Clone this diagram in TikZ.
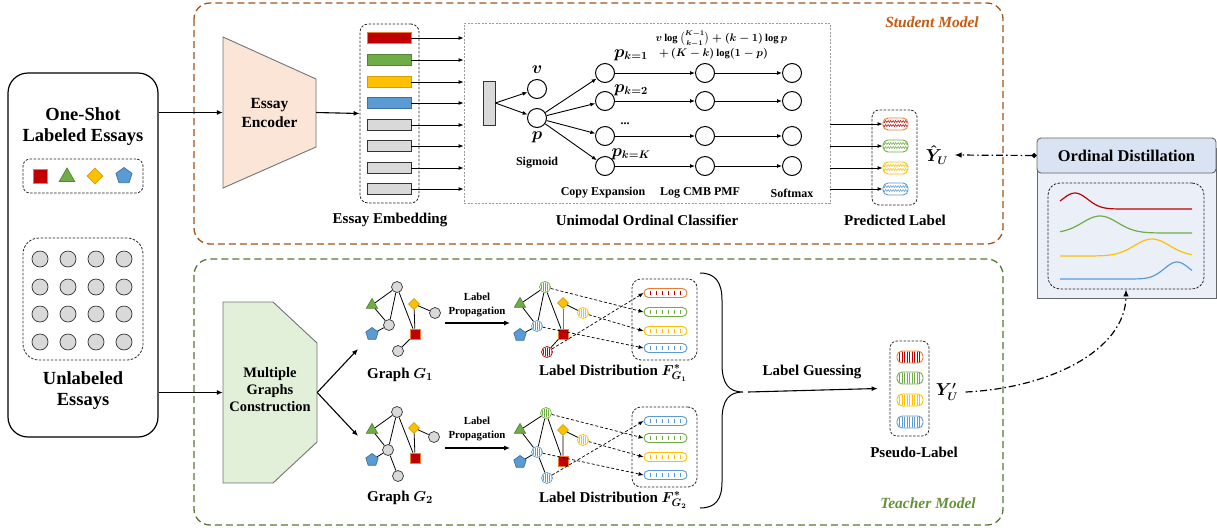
\documentclass[tikz,border=0pt]{standalone}
\usepackage{amsmath}
\usepackage{fontspec}
\setmainfont{Liberation Serif}
\usetikzlibrary{arrows.meta,shapes.geometric,decorations.pathmorphing,calc}
\definecolor{redF}{RGB}{192,0,0}
\definecolor{redB}{RGB}{237,125,49}
\definecolor{grnF}{RGB}{112,173,71}
\definecolor{grnB}{RGB}{84,130,53}
\definecolor{ylwF}{RGB}{255,192,0}
\definecolor{ylwB}{RGB}{210,160,0}
\definecolor{bluF}{RGB}{91,155,213}
\definecolor{bluB}{RGB}{65,113,156}
\definecolor{grayF}{RGB}{217,217,217}
\definecolor{stuC}{RGB}{158,84,31}
\definecolor{stuT}{RGB}{197,90,17}
\definecolor{teaC}{RGB}{84,120,53}
\definecolor{teaT}{RGB}{100,145,60}
\definecolor{encF}{RGB}{251,229,214}
\definecolor{mgcF}{RGB}{226,240,217}
\definecolor{odH}{RGB}{218,227,243}
\definecolor{odB}{RGB}{234,239,248}
\definecolor{edgeG}{RGB}{120,120,120}
% hatched circle: name, x, y, colour
\newcommand\hcirc[4]{%
  \node[circle, draw=#4, fill=white, minimum size=11pt, inner sep=0pt, line width=0.7pt] (#1) at (#2,#3) {};
  \begin{scope}[shift={(#2,#3)}]
    \clip (0,0) circle (4.6pt);
    \foreach \dx in {-4,-2,0,2,4} \draw[#4, line width=0.9pt] (\dx,-6) -- (\dx,6);
  \end{scope}}
% tick pill: name, x, y, border, ticks
\newcommand\tpill[5]{%
  \node[draw=#4, line width=0.9pt, rounded corners=4.5pt, minimum width=43pt, minimum height=9pt, inner sep=0pt, fill=white] (#1) at (#2,#3) {};
  \begin{scope}[shift={(#2,#3)}]
    \foreach \dx in {-15,-9,-3,3,9,15} \draw[#5, line width=0.6pt] (\dx,-2) -- (\dx,2);
  \end{scope}}
% striped pill: name, x, y, border, stripes
\newcommand\spill[5]{%
  \node[draw=#4, line width=0.9pt, rounded corners=5pt, minimum width=26pt, minimum height=12pt, inner sep=0pt, fill=white] (#1) at (#2,#3) {};
  \begin{scope}[shift={(#2,#3)}]
    \clip[rounded corners=4.5pt] (-12.5,-5.5) rectangle (12.5,5.5);
    \foreach \dx in {-10.5,-8,...,11} \draw[#5, line width=0.5pt] (\dx,-6) -- (\dx,6);
  \end{scope}}
% wavy pill: name, x, y, border, waves
\newcommand\wpill[5]{%
  \node[draw=#4, line width=0.9pt, rounded corners=5pt, minimum width=25pt, minimum height=12pt, inner sep=0pt, fill=white] (#1) at (#2,#3) {};
  \begin{scope}[shift={(#2,#3)}]
    \clip[rounded corners=4.5pt] (-12,-5.5) rectangle (12,5.5);
    \foreach \dy in {-2.5,1.5} \draw[#5, line width=0.5pt, decorate, decoration={zigzag, segment length=2.5pt, amplitude=1pt}] (-13,\dy) -- (13,\dy);
  \end{scope}}
\begin{document}
\begin{tikzpicture}[x=1pt,y=-1pt,
  arr/.style={-{Latex[length=6pt,width=5pt]}, line width=1.1pt},
  sarr/.style={-{Latex[length=5pt,width=4pt]}, line width=0.9pt},
  darr/.style={-{Latex[length=5pt,width=4pt]}, line width=0.7pt, dash pattern=on 3pt off 2pt},
  ddash/.style={line width=0.8pt, dash pattern=on 2.5pt off 1.5pt},
  gedge/.style={line width=0.8pt, black},
  gn/.style={circle, draw=black!80, fill=grayF, minimum size=#1, inner sep=0pt, line width=0.7pt},
  gn/.default=11pt,
  sqn/.style={rectangle, draw=redB, fill=redF, minimum size=#1, inner sep=0pt, line width=0.7pt},
  sqn/.default=10pt,
  trin/.style={regular polygon, regular polygon sides=3, draw=grnB, fill=grnF, minimum size=#1, inner sep=0pt, line width=0.7pt},
  trin/.default=13pt,
  dian/.style={diamond, draw=ylwB, fill=ylwF, minimum size=#1, inner sep=0pt, line width=0.7pt},
  dian/.default=11pt,
  penn/.style={regular polygon, regular polygon sides=5, draw=bluB, fill=bluF, minimum size=#1, inner sep=0pt, line width=0.7pt},
  penn/.default=13pt,
  cn/.style={circle, draw=black, fill=white, minimum size=19pt, inner sep=0pt, line width=1pt},
  lbl/.style={font=\fontsize{15}{17}\selectfont\bfseries\boldmath, align=center},
  lblbig/.style={font=\fontsize{18.5}{21}\selectfont\bfseries, align=center},
  lblsm/.style={font=\fontsize{12}{14}\selectfont\bfseries, align=center},
  lblxs/.style={font=\fontsize{10.8}{13.5}\selectfont\bfseries, align=center},
  mth/.style={font=\fontsize{16}{18}\selectfont\boldmath},
  bar/.style={rectangle, minimum width=44pt, minimum height=11pt, inner sep=0pt, line width=0.9pt},
  ddot/.style={line width=1.2pt, dash pattern=on 7pt off 3pt on 1.5pt off 3pt}
]
\useasboundingbox (0,0) rectangle (1217,531);

% ---------- model frames ----------
\draw[stuC, line width=1.3pt, dash pattern=on 7pt off 4pt, rounded corners=16pt] (194,3) rectangle (1003,244);
\draw[teaC, line width=1.3pt, dash pattern=on 7pt off 4pt, rounded corners=16pt] (194,259) rectangle (1003,525);
\node[font=\fontsize{15.5}{17}\selectfont\bfseries\itshape, text=stuT] (stxt) at (932,22) {Student Model};
\node[font=\fontsize{15.5}{17}\selectfont\bfseries\itshape, text=teaT] (ttxt) at (928,503) {Teacher Model};

% ---------- left panel ----------
\node[draw=black, line width=1.2pt, rounded corners=20pt, minimum width=150pt, minimum height=364pt, inner sep=0pt] (lp) at (83,255) {};
\node[lblbig] (lpt1) at (83,127) {One-Shot\\Labeled Essays};
\node[draw=black!85, ddash, rounded corners=7pt, minimum width=120pt, minimum height=34pt, inner sep=0pt] (lsb) at (83,176) {};
\node[sqn=14pt] (ls1) at (40,176) {};
\node[trin=18pt] (ls2) at (67,177) {};
\node[dian=16pt] (ls3) at (95,176) {};
\node[penn=17pt] (ls4) at (124,176) {};
\node[draw=black!85, ddash, rounded corners=16pt, minimum width=120pt, minimum height=122pt, inner sep=0pt] (lub) at (83,299) {};
\foreach \cx [count=\i] in {40,68,96,124}
  \foreach \cy [count=\j] in {259,287,314,342}
    \node[gn=16pt] (lu\i\j) at (\cx,\cy) {};
\node[lblbig] (lpt2) at (83,391) {Unlabeled\\Essays};

% ---------- encoder ----------
\draw[fill=encF, draw=black!55, line width=0.9pt] (223,37) -- (316,79) -- (316,147) -- (223,188) -- cycle;
\node[lbl, minimum width=93pt, minimum height=151pt, inner sep=0pt, font=\fontsize{15.5}{19}\selectfont\bfseries] (enc) at (269.5,112.5) {Essay\\Encoder};
\draw[arr] (lp.east |- enc.west) -- (enc.west);

% ---------- embedding ----------
\node[draw=black!85, ddash, rounded corners=8pt, minimum width=59pt, minimum height=179pt, inner sep=0pt] (emb) at (389.5,113.5) {};
\draw[arr] (enc.east) -- (emb.west);
\node[bar, fill=redF, draw=redB] (b1) at (389,38) {};
\node[bar, fill=grnF, draw=grnB] (b2) at (389,60) {};
\node[bar, fill=ylwF, draw=ylwB] (b3) at (389,82) {};
\node[bar, fill=bluF, draw=bluB] (b4) at (389,103) {};
\node[bar, fill=grayF, draw=black!80] (b5) at (389,125) {};
\node[bar, fill=grayF, draw=black!80] (b6) at (389,146) {};
\node[bar, fill=grayF, draw=black!80] (b7) at (389,168) {};
\node[bar, fill=grayF, draw=black!80] (b8) at (389,189) {};
\node[lbl] (embt) at (390,220) {Essay Embedding};

% ---------- classifier ----------
\node[draw=gray!80, line width=0.8pt, dash pattern=on 2pt off 1.5pt, minimum width=366pt, minimum height=180pt, inner sep=0pt] (cls) at (647,113) {};
\foreach \i in {1,...,8} \draw[sarr] (b\i.east) -- (cls.west |- b\i.east);
\node[rectangle, fill=grayF, draw=black!80, line width=0.8pt, minimum width=12pt, minimum height=44pt, inner sep=0pt] (sg) at (489,103) {};
\node[cn] (cv) at (537,89) {};
\node[cn] (cp) at (537,118) {};
\draw[sarr] (sg.east) -- (cv);
\draw[sarr] (sg.east) -- (cp);
\foreach \r [count=\i] in {73,101,136,166} {
  \node[cn] (c\i) at (605,\r) {};
  \node[cn] (l\i) at (705,\r) {};
  \node[cn] (s\i) at (792,\r) {};
  \draw[sarr] (cp) -- (c\i);
  \draw[sarr] (c\i) -- (l\i);
  \draw[sarr] (l\i) -- (s\i);
}
\node[mth] (tv) at (537,70) {$v$};
\node[mth] (tp) at (537,137) {$p$};
\node[lblsm] (tsig) at (537,163) {Sigmoid};
\node[mth] (tk1) at (631,55) {$p_{k=1}$};
\node[mth] (tk2) at (631,90) {$p_{k=2}$};
\node[lblsm] (tkd) at (625,124) {...};
\node[mth] (tkK) at (631,154) {$p_{k=K}$};
\node[anchor=west, align=left, font=\fontsize{10.5}{15}\selectfont\boldmath] (form) at (652,45)
  {$v\log\tbinom{K-1}{k-1}+(k-1)\log p$\\$\;+\,(K-k)\log(1-p)$};
\node[lblsm] (tce) at (603,193) {Copy Expansion};
\node[lblsm] (tlc) at (700,193) {Log CMB PMF};
\node[lblsm] (tsm) at (792,193) {Softmax};
\node[lbl] (clst) at (647,220) {Unimodal Ordinal Classifier};

% ---------- predicted label ----------
\node[draw=black!85, ddash, rounded corners=7pt, minimum width=45pt, minimum height=95pt, inner sep=0pt] (prb) at (894.5,157.5) {};
\wpill{pr1}{895.5}{124}{redB}{redF}
\wpill{pr2}{895.5}{146}{grnF}{grnF}
\wpill{pr3}{895.5}{168}{ylwF}{ylwF}
\wpill{pr4}{895.5}{189}{bluF}{bluF}
\foreach \i in {1,...,4} \draw[sarr] (cls.east |- pr\i.west) -- (pr\i.west);
\node[lbl] (prt) at (895,220) {Predicted Label};
\node[mth] (yh) at (937,155) {$\hat{Y}_{U}$};

% ---------- ordinal distillation ----------
\node[draw=gray!80!black, fill=odB, line width=0.9pt, minimum width=179pt, minimum height=150pt, inner sep=0pt] (odb) at (1126.5,223) {};
\node[draw=gray!80!black, fill=odH, line width=0.9pt, rounded corners=4pt, minimum width=179pt, minimum height=35pt, inner sep=0pt, font=\fontsize{16.4}{18}\selectfont\bfseries] (odh) at (1126.5,155.5) {Ordinal Distillation};
\node[draw=black!85, ddash, rounded corners=12pt, minimum width=156pt, minimum height=106pt, inner sep=0pt] (odi) at (1126,236) {};
\draw[redF, line width=1.2pt, domain=1060:1192, samples=60, smooth] plot (\x, {209-16*exp(-((\x-1075)/18)^2)});
\draw[grnF, line width=1.2pt, domain=1060:1192, samples=60, smooth] plot (\x, {233-17*exp(-((\x-1100)/25)^2)});
\draw[ylwF, line width=1.2pt, domain=1060:1192, samples=60, smooth] plot (\x, {256-17*exp(-((\x-1152)/25)^2)});
\draw[bluF, line width=1.2pt, domain=1060:1192, samples=60, smooth] plot (\x, {279-17*exp(-((\x-1177)/18)^2)});
\draw[ddot, {Circle[length=5pt]}-{Latex[length=7pt,width=5.5pt]}] (odh.west) -- ([xshift=3pt]yh.east);

% ---------- teacher: construction ----------
\draw[fill=mgcF, draw=black!55, line width=0.9pt] (223,302) -- (273,302) -- (317,343) -- (317,442) -- (273,483) -- (223,483) -- cycle;
\node[minimum width=94pt, minimum height=181pt, inner sep=0pt] (mgc) at (270,392.5) {};
\node[lbl, font=\fontsize{14.5}{17}\selectfont\bfseries] (mgct) at (270,390) {Multiple\\Graphs\\Construction};
\draw[arr] (lp.east |- mgc.west) -- (mgc.west);
\coordinate (g1in) at (358,349);
\coordinate (g2in) at (358,436);
\draw[arr] (mgc.east) -- (g1in);
\draw[arr] (mgc.east) -- (g2in);

% ---------- graph G1 ----------
\node[gn] (g1t) at (397,287) {};
\node[trin] (g1tri) at (372,305) {};
\node[gn] (g1m) at (389,325) {};
\node[penn] (g1pen) at (372,334) {};
\node[dian] (g1dia) at (414,304) {};
\node[gn] (g1r) at (435,313) {};
\node[sqn] (g1sq) at (415,334) {};
\node[gn] (g1b) at (398,351) {};
\draw[gedge] (g1t) -- (g1tri) (g1t) -- (g1m) (g1t) -- (g1sq) (g1tri) -- (g1m) (g1m) -- (g1pen)
  (g1dia) -- (g1r) (g1dia) -- (g1sq) (g1sq) -- (g1b);
\node[lbl] (tg1) at (400,375) {Graph $G_1$};

% ---------- graph G2 ----------
\node[gn] (g2t) at (397,412) {};
\node[trin] (g2tri) at (372,430) {};
\node[gn] (g2m) at (388,450) {};
\node[penn] (g2pen) at (372,460) {};
\node[dian] (g2dia) at (414,428) {};
\node[gn] (g2r) at (434,437) {};
\node[sqn] (g2sq) at (415,458) {};
\node[gn] (g2b) at (398,476) {};
\draw[gedge] (g2t) -- (g2tri) (g2t) -- (g2m) (g2t) -- (g2sq) (g2tri) -- (g2m) (g2m) -- (g2pen)
  (g2m) -- (g2b) (g2dia) -- (g2r) (g2dia) -- (g2sq);
\node[lbl] (tg2) at (400,498) {Graph $G_2$};

% ---------- label propagation ----------
\coordinate (lp1a) at (445,323); \coordinate (lp1b) at (510,323);
\coordinate (lp2a) at (445,448); \coordinate (lp2b) at (510,448);
\draw[arr] (lp1a) -- (lp1b);
\draw[arr] (lp2a) -- (lp2b);
\node[lblxs] (lpt1a) at (477,305) {Label\\Propagation};
\node[lblxs] (lpt2a) at (477,429) {Label\\Propagation};

% ---------- label distribution 1 ----------
\hcirc{d1g}{545}{287}{grnF}
\node[trin] (d1tri) at (520,304) {};
\hcirc{d1b}{537}{326}{bluF}
\node[penn] (d1pen) at (520,335) {};
\node[dian] (d1dia) at (563,303) {};
\hcirc{d1y}{583}{313}{ylwF}
\node[sqn] (d1sq) at (563,334) {};
\hcirc{d1r}{547}{352}{redF}
\draw[gedge] (d1g) -- (d1tri) (d1g) -- (d1b) (d1g) -- (d1sq) (d1tri) -- (d1b) (d1b) -- (d1pen)
  (d1dia) -- (d1y) (d1sq) -- (d1r);
\draw[line width=0.8pt, edgeG] (d1dia) -- (d1sq);
\node[draw=black!85, ddash, rounded corners=9pt, minimum width=65pt, minimum height=81pt, inner sep=0pt] (db1) at (664.5,319.5) {};
\tpill{q11}{665.5}{293}{redB}{redF}
\tpill{q12}{665.5}{312}{grnF}{grnF}
\tpill{q13}{665.5}{331}{ylwF}{ylwF}
\tpill{q14}{665.5}{348}{bluF}{bluF}
\draw[darr] (d1g) -- (q12.west);
\draw[darr] (d1y) -- (q13.west);
\draw[darr] (d1b) -- (q14.west);
\draw[darr] (d1r) -- (q11.west);
\node[lbl] (tdb1) at (613,373) {Label Distribution $F^{*}_{G_1}$};

% ---------- label distribution 2 ----------
\hcirc{d2g}{546}{413}{grnF}
\node[trin] (d2tri) at (520,430) {};
\hcirc{d2b}{537}{452}{bluF}
\node[penn] (d2pen) at (520,462) {};
\node[dian] (d2dia) at (563,430) {};
\hcirc{d2y}{583}{440}{ylwF}
\node[sqn] (d2sq) at (563,461) {};
\hcirc{d2c}{547}{478}{bluF}
\draw[gedge] (d2g) -- (d2tri) (d2g) -- (d2b) (d2g) -- (d2sq) (d2tri) -- (d2b) (d2b) -- (d2pen)
  (d2b) -- (d2c) (d2dia) -- (d2y) (d2dia) -- (d2sq);
\node[draw=black!85, ddash, rounded corners=9pt, minimum width=65pt, minimum height=80pt, inner sep=0pt] (db2) at (664.5,447) {};
\tpill{q21}{665.5}{421}{bluF}{bluF}
\tpill{q22}{665.5}{438}{grnF}{grnF}
\tpill{q23}{665.5}{457}{ylwF}{ylwF}
\tpill{q24}{665.5}{475}{bluF}{bluF}
\draw[darr] (d2g) -- (q22.west);
\draw[darr] (d2y) -- (q23.west);
\draw[darr] (d2b) -- (q24.west);
\draw[darr] (d2c) -- (q21.west);
\node[lbl] (tdb2) at (613,500) {Label Distribution $F^{*}_{G_2}$};

% ---------- brace & label guessing ----------
\draw[line width=1pt] (700,273) .. controls (715,273) and (722,282) .. (722,300) -- (722,364)
  .. controls (722,384) and (729,392) .. (743,392)
  .. controls (729,392) and (722,400) .. (722,420) -- (722,482)
  .. controls (722,500) and (715,508) .. (700,508);
\coordinate (bt) at (748,392);
\node[draw=black!85, ddash, rounded corners=7pt, minimum width=39pt, minimum height=95pt, inner sep=0pt] (psb) at (909.5,388.5) {};
\draw[arr] (bt) -- ([xshift=-12pt]psb.west);
\node[lbl] (lgt) at (812,372) {Label Guessing};
\spill{ps1}{910}{357}{redB}{redF}
\spill{ps2}{910}{378}{grnF}{grnF}
\spill{ps3}{910}{400}{ylwF}{ylwF}
\spill{ps4}{910}{422}{bluF}{bluF}
\node[lbl] (pst) at (914,452) {Pseudo-Label};
\node[mth] (yp) at (947,392) {$Y'_U$};
\draw[ddot, -{Latex[length=7pt,width=5.5pt]}] ([xshift=4pt]yp.east) .. controls (1050,388) and (1126,350) .. (odi.south);
\end{tikzpicture}
\end{document}
